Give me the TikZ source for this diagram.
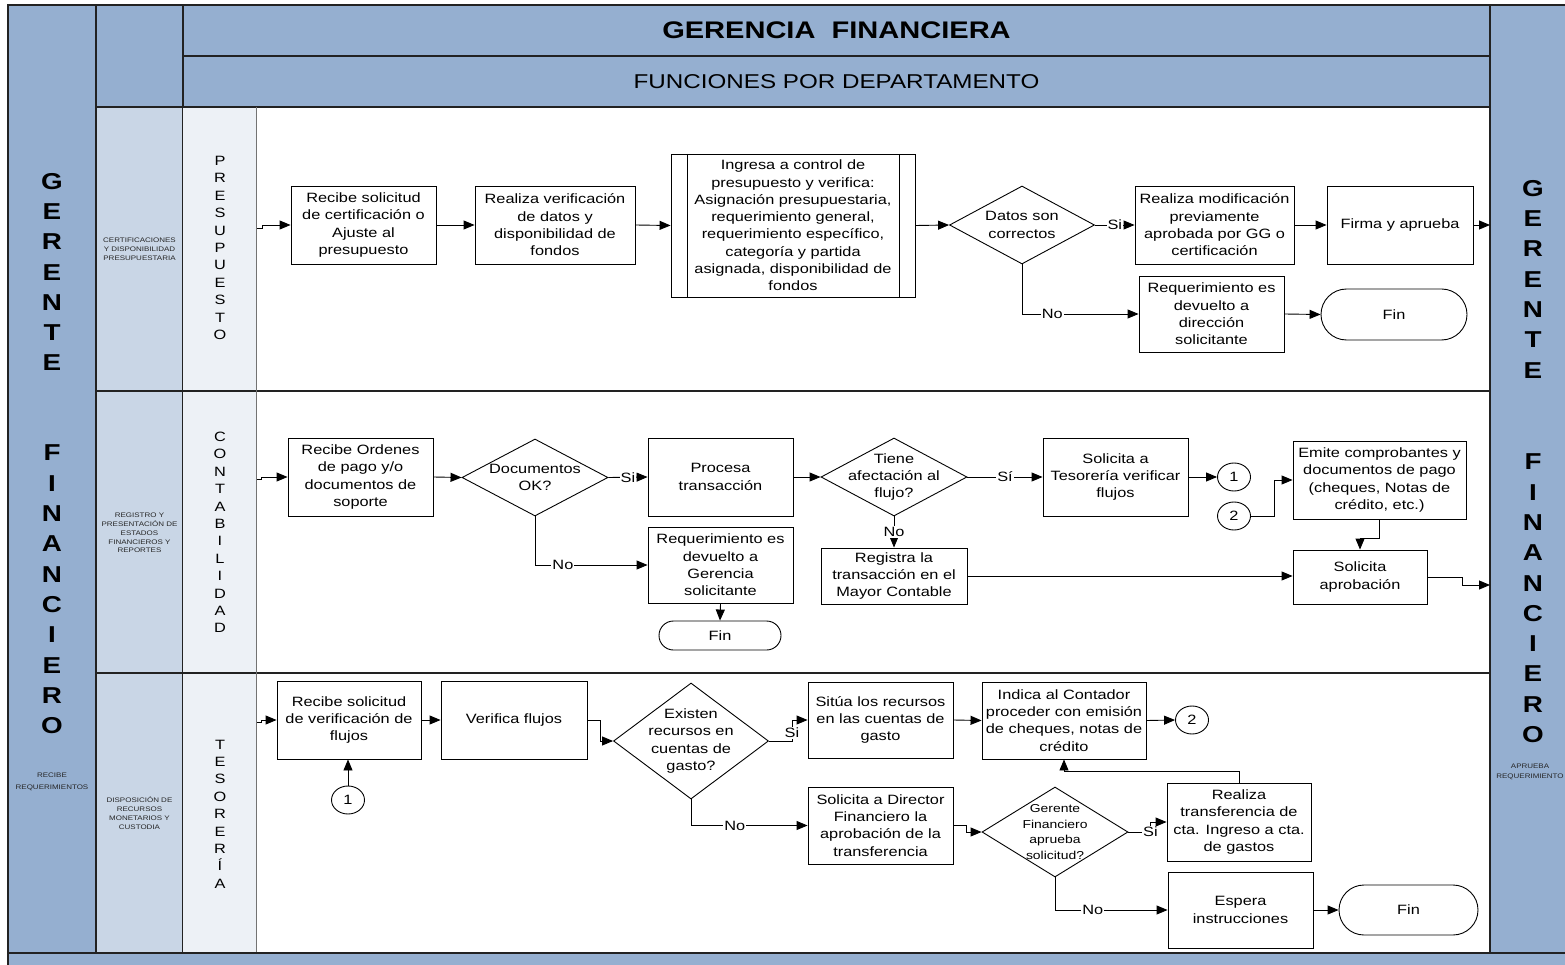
\documentclass[tikz,border=0pt]{standalone}
\usepackage{fontspec}
\setmainfont{Liberation Sans}[FakeStretch=1.21]
\usetikzlibrary{shapes.geometric,shapes.misc,arrows.meta}
\definecolor{hdr}{HTML}{95AFD0}
\definecolor{lanetwo}{HTML}{C9D6E6}
\definecolor{lanethree}{HTML}{EDF1F6}
\definecolor{frame}{HTML}{222222}
\newcommand\bodyf{\fontsize{13.5}{17.3}\selectfont}
\newcommand\smallf{\fontsize{11.5}{15.5}\selectfont}
\newcommand\tinyf{\fontsize{6.6}{8.8}\selectfont}
\begin{document}
\begin{tikzpicture}[x=1pt,y=-1pt,
  proc/.style={draw=black, line width=0.9pt, fill=white, align=center, inner sep=2pt, font=\bodyf},
  predef/.style={proc, path picture={
      \draw[line width=0.9pt] ([xshift=16pt]path picture bounding box.north west) -- ([xshift=16pt]path picture bounding box.south west);
      \draw[line width=0.9pt] ([xshift=-16pt]path picture bounding box.north east) -- ([xshift=-16pt]path picture bounding box.south east);}},
  dec/.style={draw=black, line width=0.9pt, diamond, fill=white, inner sep=0pt},
  dtext/.style={font=\bodyf, align=center, inner sep=0pt},
  dsmall/.style={font=\smallf, align=center, inner sep=0pt},
  term/.style={draw=black, line width=0.9pt, rounded rectangle, fill=white, font=\bodyf, inner sep=0pt},
  conn/.style={draw=black, line width=0.9pt, ellipse, fill=white, minimum width=33pt, minimum height=28pt, inner sep=0pt, font=\bodyf},
  arr/.style={line width=0.9pt, -{Triangle[length=11pt,width=9pt]}},
  lbl/.style={fill=white, inner sep=1pt, font=\bodyf},
  frm/.style={draw=frame, line width=1.5pt},
  vtext/.style={align=center, inner sep=0pt, font=\fontsize{13.5}{17.4}\selectfont},
  bigv/.style={align=center, inner sep=0pt, font=\fontsize{23}{30.3}\selectfont\bfseries},
  smallcap/.style={align=center, inner sep=0pt, font=\tinyf, text=black!85}
]
\useasboundingbox (0,0) rectangle (1565,965);
\fill[white] (0,0) rectangle (1565,965);

% ---------- frame ----------
\filldraw[fill=hdr, frm] (8,5) rectangle (96,953);
\filldraw[fill=hdr, frm] (96,5) rectangle (183,107);
\filldraw[fill=hdr, frm] (183,5) rectangle (1490,56);
\filldraw[fill=hdr, frm] (183,56) rectangle (1490,107);
\fill[hdr] (1490,5) rectangle (1565,953);
\draw[frm] (1565,5) -- (1490,5) -- (1490,953) -- (1565,953);
% lanes
\foreach \ya/\yb in {107/391, 391/673, 673/953} {
  \filldraw[fill=lanetwo, frm] (96,\ya) rectangle (183,\yb);
  \fill[lanethree] (183,\ya) rectangle (256,\yb);
  \draw[frm] (183,\ya) -- (1490,\ya);
  \draw[frm] (183,\yb) -- (1490,\yb);
}
\draw[line width=1pt, black!55] (256,107) -- (256,953);
\fill[hdr] (8,953) rectangle (1565,965);
\draw[frm] (8,965) -- (8,953) -- (1565,953);

% ---------- header texts ----------
\node[font=\fontsize{24}{28}\selectfont\bfseries, inner sep=0pt] (h1) at (836.5,30.5) {GERENCIA\ \ FINANCIERA};
\node[font=\fontsize{20}{24}\selectfont, inner sep=0pt] (h2) at (836.5,81.5) {FUNCIONES POR DEPARTAMENTO};

\node[bigv] (gl) at (52,453.5) {G\\E\\R\\E\\N\\T\\E\\[59.7pt]F\\I\\N\\A\\N\\C\\I\\E\\R\\O};
\node[bigv] (gr) at (1533,461.5) {G\\E\\R\\E\\N\\T\\E\\[61.4pt]F\\I\\N\\A\\N\\C\\I\\E\\R\\O};
\node[smallcap, font=\fontsize{6.6}{11.5}\selectfont] (rl) at (52,782) {RECIBE\\REQUERIMIENTOS};
\node[smallcap, font=\fontsize{6.6}{10.5}\selectfont] (rr) at (1530,772) {APRUEBA\\REQUERIMIENTO};

\node[smallcap] (d1) at (139.5,249) {CERTIFICACIONES\\Y DISPONIBILIDAD\\PRESUPUESTARIA};
\node[smallcap] (d2) at (139.5,533) {REGISTRO Y\\PRESENTACIÓN DE\\ESTADOS\\FINANCIEROS Y\\REPORTES};
\node[smallcap] (d3) at (139.5,813) {DISPOSICIÓN DE\\RECURSOS\\MONETARIOS Y\\CUSTODIA};

\node[vtext] (v1) at (220,248) {P\\R\\E\\S\\U\\P\\U\\E\\S\\T\\O};
\node[vtext] (v2) at (220,532.5) {C\\O\\N\\T\\A\\B\\I\\L\\I\\D\\A\\D};
\node[vtext] (v3) at (220,814) {T\\E\\S\\O\\R\\E\\R\\Í\\A};

% ---------- lane 1: presupuesto ----------
\node[proc, minimum width=145pt, minimum height=78pt] (A1) at (363.5,225) {Recibe solicitud\\de certificación o\\Ajuste al\\presupuesto};
\node[proc, minimum width=160pt, minimum height=78pt] (A2) at (555,225) {Realiza verificación\\de datos y\\disponibilidad de\\fondos};
\node[predef, minimum width=244pt, minimum height=143pt] (A3) at (793,225.5) {Ingresa a control de\\presupuesto y verifica:\\Asignación presupuestaria,\\requerimiento general,\\requerimiento específico,\\categoría y partida\\asignada, disponibilidad de\\fondos};
\node[dec, minimum width=145pt, minimum height=78pt, label={[dtext]center:Datos son\\correctos}] (A4) at (1022,225) {};
\node[proc, minimum width=159pt, minimum height=78pt] (A5) at (1214.5,225) {Realiza modificación\\previamente\\aprobada por GG o\\certificación};
\node[proc, minimum width=146pt, minimum height=78pt] (A6) at (1400,225) {Firma y aprueba};
\node[proc, minimum width=145pt, minimum height=76pt] (A7) at (1211.5,314) {Requerimiento es\\devuelto a\\dirección\\solicitante};
\node[term, minimum width=146pt, minimum height=51pt] (A8) at (1394,314.5) {Fin};

\coordinate (inA) at (257,228);
\coordinate (outA) at (1490,225);
\draw[arr] (inA) -- ++(5,0) |- (A1.west);
\draw[arr] (A1.east) -- (A2.west);
\draw[arr] (A2.east) -- (A3.west);
\draw[arr] (A3.east) -- (A4.west);
\draw[arr] (A4.east) -- node[lbl]{Si} (A5.west);
\draw[arr] (A5.east) -- (A6.west);
\draw[arr] (A6.east) -- (outA);
\draw[arr] (A4.south) |- node[lbl, pos=0.63]{No} (A7.west);
\draw[arr] (A7.east) -- (A8.west);

% ---------- lane 2: contabilidad ----------
\node[proc, minimum width=145pt, minimum height=78pt] (B1) at (360.5,477) {Recibe Ordenes\\de pago y/o\\documentos de\\soporte};
\node[dec, minimum width=146pt, minimum height=77pt, label={[dtext]center:Documentos\\OK?}] (B2) at (535,477.5) {};
\node[proc, minimum width=145pt, minimum height=78pt] (B3) at (720.5,477) {Procesa\\transacción};
\node[dec, minimum width=146pt, minimum height=78pt, label={[dtext]center:Tiene\\afectación al\\flujo?}] (B4) at (894,477) {};
\node[proc, minimum width=145pt, minimum height=78pt] (B5) at (1115.5,477) {Solicita a\\Tesorería verificar\\flujos};
\node[conn] (K1) at (1234,477) {1};
\node[conn] (K2) at (1234,516) {2};
\node[proc, minimum width=173pt, minimum height=78pt] (B6) at (1379.5,480) {Emite comprobantes y\\documentos de pago\\(cheques, Notas de\\crédito, etc.)};
\node[proc, minimum width=134pt, minimum height=54pt] (B7) at (1360,577) {Solicita\\aprobación};
\node[proc, minimum width=145pt, minimum height=76pt] (B8) at (720.5,565) {Requerimiento es\\devuelto a\\Gerencia\\solicitante};
\node[term, minimum width=122pt, minimum height=29pt] (B9) at (720,635.5) {Fin};
\node[proc, minimum width=146pt, minimum height=56pt] (B10) at (894,576) {Registra la\\transacción en el\\Mayor Contable};

\coordinate (inB) at (257,479);
\coordinate (outB) at (1490,585);
\draw[arr] (inB) -- ++(4,0) |- (B1.west);
\draw[arr] (B1.east) -- (B2.west);
\draw[arr] (B2.east) -- node[lbl]{Si} (B3.west);
\draw[arr] (B3.east) -- (B4.west);
\draw[arr] (B4.east) -- node[lbl]{Sí} (B5.west);
\draw[arr] (B5.east) -- (K1.west);
\draw[arr] (K2.east) -- ++(23,0) |- (B6.west);
\draw[arr] (B6.south) -- ++(0,19) -| (B7.north);
\draw[arr] (B7.east) -- ++(35,0) |- (outB);
\draw[arr] (B2.south) |- node[lbl, pos=0.624]{No} (B8.west);
\draw[arr] (B8.south) -- (B9.north);
\draw[arr] (B4.south) -- node[lbl]{No} (B10.north);
\draw[arr] (B10.east) -- (B10.east -| B7.west);

% ---------- lane 3: tesoreria ----------
\node[proc, minimum width=144pt, minimum height=78pt] (C1) at (349,720) {Recibe solicitud\\de verificación de\\flujos};
\node[conn] (K3) at (348,800) {1};
\node[proc, minimum width=146pt, minimum height=78pt] (C2) at (514,720) {Verifica flujos};
\node[dec, minimum width=155pt, minimum height=116pt, label={[dtext]center:Existen\\recursos en\\cuentas de\\gasto?}] (C3) at (691,741) {};
\node[proc, minimum width=145pt, minimum height=76pt] (C4) at (880.5,720) {Sitúa los recursos\\en las cuentas de\\gasto};
\node[proc, minimum width=164pt, minimum height=77pt] (C5) at (1064,720.5) {Indica al Contador\\proceder con emisión\\de cheques, notas de\\crédito};
\node[conn] (K4) at (1192,720) {2};
\node[proc, minimum width=145pt, minimum height=77pt] (C6) at (880.5,825.5) {Solicita a Director\\Financiero la\\aprobación de la\\transferencia};
\node[dec, minimum width=146pt, minimum height=90pt, label={[dsmall]center:Gerente\\Financiero\\aprueba\\solicitud?}] (C7) at (1055,832) {};
\node[proc, minimum width=144pt, minimum height=78pt] (C8) at (1239,822) {Realiza\\transferencia de\\cta. Ingreso a cta.\\de gastos};
\node[proc, minimum width=145pt, minimum height=76pt] (C9) at (1240.5,910) {Espera\\instrucciones};
\node[term, minimum width=139pt, minimum height=50pt] (C10) at (1408.5,910) {Fin};

\coordinate (inC) at (257,722);
\draw[arr] (inC) -- ++(4,0) |- (C1.west);
\draw[arr] (K3.north) -- (K3.north |- C1.south);
\draw[arr] (C1.east) -- (C2.west);
\draw[arr] (C2.east) -- ++(13,0) |- (C3.west);
\draw[arr] (C3.east) -- ++(23,0) |- node[lbl, pos=0.2]{Si} (C4.west);
\draw[arr] (C3.south) |- node[lbl, pos=0.688]{No} (C6.west);
\draw[arr] (C4.east) -- (C5.west);
\draw[arr] (C5.east) -- (K4.west);
\draw[arr] (C6.east) -- ++(13,0) |- (C7.west);
\draw[arr] (C7.east) -- ++(22,0) node[lbl]{Si} |- (C8.west);
\draw[arr] (C8.north) -- ++(0,-11) -| (C5.south);
\draw[arr] (C7.south) |- node[lbl, pos=0.668]{No} (C9.west);
\draw[arr] (C9.east) -- (C10.west);
\end{tikzpicture}
\end{document}
